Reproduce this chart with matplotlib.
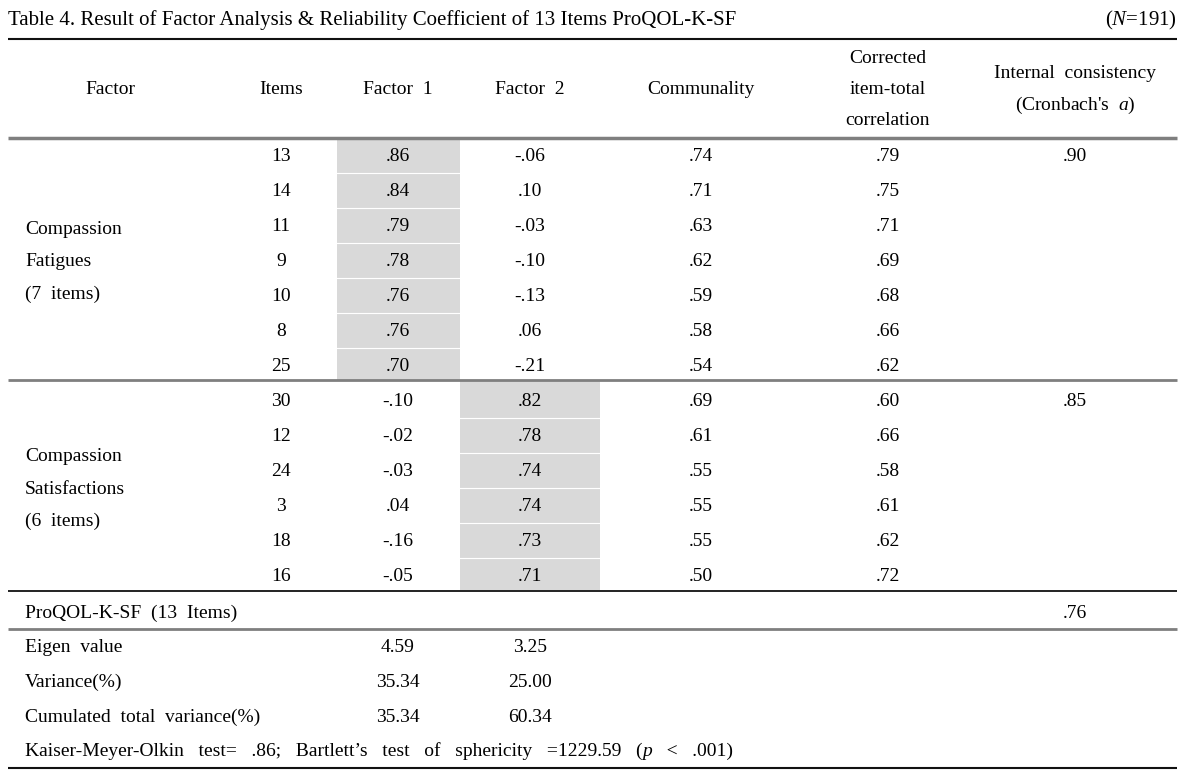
import matplotlib
matplotlib.use("Agg")
import matplotlib.pyplot as plt
from matplotlib.transforms import offset_copy

plt.rcParams['font.family'] = ['Liberation Serif', 'DejaVu Serif']
plt.rcParams['mathtext.fontset'] = 'custom'
plt.rcParams['mathtext.rm'] = 'Liberation Serif'
plt.rcParams['mathtext.it'] = 'Liberation Serif:italic'

# ---------------- data ----------------
title = "Table 4. Result of Factor Analysis & Reliability Coefficient of 13 Items ProQOL-K-SF"
n_label = r"($\it{N}$=191)"
headers = [["Factor"], ["Items"], ["Factor  1"], ["Factor  2"], ["Communality"],
           ["Corrected", "item-total", "correlation"],
           ["Internal  consistency", "(Cronbach's  $\\it{a}$)"]]

group_names = [["Compassion", "Fatigues", "(7  items)"],
               ["Compassion", "Satisfactions", "(6  items)"]]
group_sizes = [7, 6]
group_alpha = [.90, .85]
group_loading = [0, 1]  # which factor column is shaded

items = [13, 14, 11, 9, 10, 8, 25, 30, 12, 24, 3, 18, 16]
factor1 = [.86, .84, .79, .78, .76, .76, .70, -.10, -.02, -.03, .04, -.16, -.05]
factor2 = [-.06, .10, -.03, -.10, -.13, .06, -.21, .82, .78, .74, .74, .73, .71]
communality = [.74, .71, .63, .62, .59, .58, .54, .69, .61, .55, .55, .55, .50]
corrected = [.79, .75, .71, .69, .68, .66, .62, .60, .66, .58, .61, .62, .72]

total_label = "ProQOL-K-SF  (13  Items)"
total_alpha = .76

stat_labels = ["Eigen  value", "Variance(%)", "Cumulated  total  variance(%)"]
stat_f1 = [4.59, 35.34, 35.34]
stat_f2 = [3.25, 25.00, 60.34]
footnote_parts = [("Kaiser-Meyer-Olkin   test=   .86;   Bartlett’s   test   of   sphericity   "
                   "=1229.59   (", "normal"),
                  ("p", "italic"),
                  ("   <   .001)", "normal")]


def fmt(v):
    s = f"{v:.2f}"
    return s.replace("0.", ".", 1) if abs(v) < 1 else s


# ---------------- layout ----------------
W, H = 1197, 771
fig = plt.figure(figsize=(W / 100, H / 100), dpi=100)
ax = fig.add_axes([0, 0, 1, 1])
ax.set_xlim(0, W)
ax.set_ylim(H, 0)
ax.axis("off")

FS = 14
DY = 1.5  # small vertical nudge for text centring
col_x = [110, 281, 398, 530, 701, 888, 1075]
col_edges = [337, 460, 600]
xl, xr = 8, 1177
row_h = 35.0
line_gap_hdr = 31.0
line_gap_grp = 32.5


def hline(y, color, lw):
    ax.plot([xl, xr], [y, y], color=color, lw=lw, solid_capstyle="butt")


def txt(x, y, s, ha="center", fs=FS):
    return ax.text(x, y + DY, s, fontsize=fs, ha=ha, va="center")


def multiline(x, yc, lines, gap, ha="center"):
    n = len(lines)
    for i, s in enumerate(lines):
        txt(x, yc + (i - (n - 1) / 2) * gap, s, ha=ha)


# title
ax.text(xl, 20, title, fontsize=15, va="center", ha="left")
ax.text(xr, 20, n_label, fontsize=15, va="center", ha="right")
hline(38.5, "#111111", 1.5)

# headers
for x, h in zip(col_x, headers):
    multiline(x, 88, h, line_gap_hdr)

# body
y0 = 155
header_bottom = 138
y = y0
idx = 0
group_bottoms = []
for g, (name, size, alpha, load) in enumerate(zip(group_names, group_sizes, group_alpha, group_loading)):
    top = header_bottom if g == 0 else y - row_h / 2 - 2.5
    bottom = y + (size - 1) * row_h + row_h / 2 - 2.5
    x0, x1 = col_edges[load], col_edges[load + 1]
    ax.fill_between([x0, x1], top, bottom, color="#d9d9d9", lw=0, zorder=0)
    for k in range(1, size):
        yy = y + (k - 0.5) * row_h
        ax.plot([x0, x1], [yy, yy], color="white", lw=0.8, zorder=1)
    multiline(25, y + (size - 1) * row_h / 2, name, line_gap_grp, ha="left")
    txt(col_x[6], y, fmt(alpha))
    for k in range(size):
        yy = y + k * row_h
        vals = [str(items[idx]), fmt(factor1[idx]), fmt(factor2[idx]),
                fmt(communality[idx]), fmt(corrected[idx])]
        for x, v in zip(col_x[1:6], vals):
            txt(x, yy, v)
        idx += 1
    y = y + size * row_h
    group_bottoms.append(bottom)

hline(header_bottom, "#7f7f7f", 2.5)
hline(group_bottoms[0], "#7f7f7f", 2.0)
hline(group_bottoms[1] + 0.5, "#111111", 1.3)

# total row
txt(25, 612, total_label, ha="left")
txt(col_x[6], 612, fmt(total_alpha))
hline(628.5, "#7f7f7f", 2.0)

# stats rows
for k, (lab, a, b) in enumerate(zip(stat_labels, stat_f1, stat_f2)):
    yy = 646 + k * row_h
    txt(25, yy, lab, ha="left")
    txt(col_x[2], yy, f"{a:.2f}")
    txt(col_x[3], yy, f"{b:.2f}")

# footnote drawn in pieces so that only "p" is italic
renderer = fig.canvas.get_renderer()
trans = ax.transData
for s, style in footnote_parts:
    t = ax.text(25, 750 + DY, s, fontsize=FS, ha="left", va="baseline" if False else "center",
                style=style, transform=trans)
    w = t.get_window_extent(renderer=renderer).width
    trans = offset_copy(trans, fig=fig, x=w, y=0, units="dots")

hline(768, "#111111", 1.5)

fig.savefig("out.png", dpi=100)
